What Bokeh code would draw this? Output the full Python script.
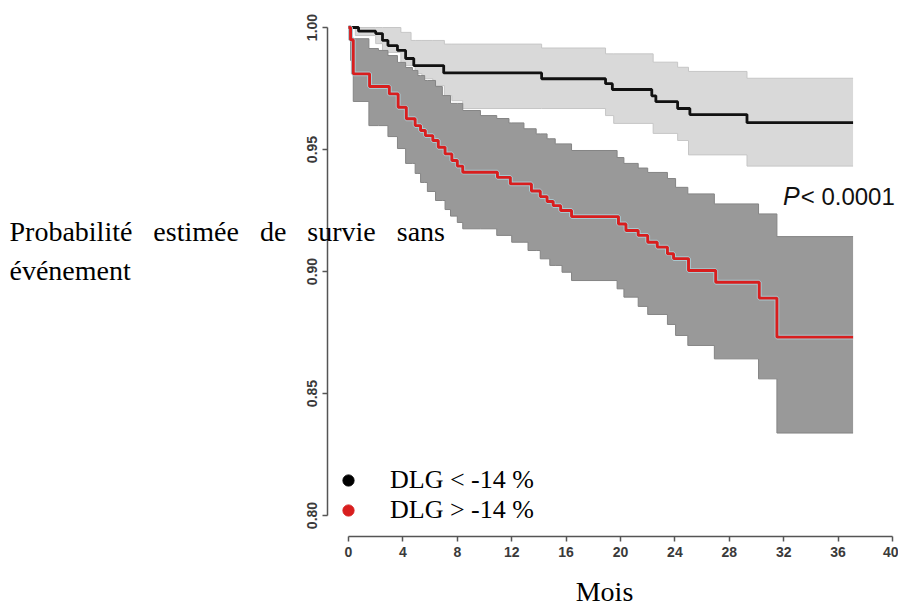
from bokeh.plotting import figure
from bokeh.models import Range1d, FixedTicker, Legend, LegendItem, Label, PrintfTickFormatter
from bokeh.embed import file_html
from bokeh.resources import INLINE

# ---- data ----
# DLG < -14 % : Kaplan-Meier curve (black) and its CI (light grey)
black_t = [0, 0.74, 2.0, 2.5, 2.9, 3.6, 4.2, 4.8, 7.0, 14.2, 18.9, 19.4, 22.3, 22.6, 24.2, 25.1, 29.3, 37.1]
black_s = [1.0, 0.9985, 0.9975, 0.9947, 0.9926, 0.9906, 0.9873, 0.9844, 0.9814, 0.979, 0.977, 0.9746,
           0.972, 0.9696, 0.9668, 0.9643, 0.961, 0.961]
light_t = [0, 0.5, 2.0, 2.5, 3.85, 4.6, 4.9, 5.4, 6.2, 7.05, 7.6, 8.4, 14.2, 18.9, 19.5, 22.4, 24.2, 25.0, 29.3, 37.1]
light_hi = [1.0, 1.0, 1.0, 1.0, 0.998, 0.9947, 0.9947, 0.9947, 0.9947, 0.9932, 0.9932, 0.9932, 0.9916,
            0.9892, 0.9892, 0.9858, 0.9837, 0.982, 0.9792, 0.9792]
light_lo = [1.0, 0.9967, 0.9934, 0.9898, 0.9844, 0.9844, 0.9811, 0.979, 0.9762, 0.9721, 0.970, 0.9668,
            0.9668, 0.9639, 0.9607, 0.9566, 0.9537, 0.9478, 0.9432, 0.9432]

# DLG > -14 % : Kaplan-Meier curve (red) and its CI (dark grey)
red_t = [0, 0.15, 0.35, 1.55, 3.0, 3.65, 4.25, 4.9, 5.3, 5.65, 6.2, 6.6, 7.1, 7.6, 8.0, 8.4, 10.95, 11.9,
         13.45, 14.1, 14.6, 15.05, 15.6, 16.4, 19.85, 20.4, 21.3, 22.0, 22.7, 23.45, 23.9, 25.0, 27.0,
         30.2, 31.5, 37.1]
red_s = [1.0, 0.995, 0.981, 0.9758, 0.9728, 0.9673, 0.9626, 0.9598, 0.9578, 0.9557, 0.9537, 0.9509,
         0.9482, 0.9455, 0.9432, 0.9407, 0.9386, 0.9359, 0.933, 0.9307, 0.9287, 0.927, 0.925, 0.9225,
         0.9195, 0.9168, 0.9148, 0.912, 0.91, 0.9073, 0.9053, 0.9004, 0.8956, 0.8891, 0.8731, 0.8731]
dark_t = [0, 0.15, 0.35, 1.5, 2.2, 2.9, 3.6, 4.2, 4.7, 4.9, 5.1, 5.3, 5.6, 5.8, 6.4, 6.9, 7.1, 7.5, 8.0,
          8.4, 9.7, 10.9, 11.8, 12.0, 12.9, 13.2, 13.8, 14.1, 14.6, 14.8, 15.2, 15.7, 16.4, 19.75, 20.25,
          21.3, 22.0, 23.45, 24.05, 24.95, 26.9, 30.15, 31.5, 37.1]
dark_hi = [1.0, 0.9954, 0.9954, 0.9914, 0.9906, 0.9885, 0.9857, 0.9836, 0.9824, 0.9824, 0.9803, 0.9803,
           0.9783, 0.9783, 0.9758, 0.9721, 0.9721, 0.9689, 0.9689, 0.966, 0.9639, 0.9627, 0.9609, 0.9609,
           0.9585, 0.9585, 0.9564, 0.9564, 0.9544, 0.9544, 0.9523, 0.9523, 0.9496, 0.9467, 0.9443, 0.9424,
           0.9406, 0.9381, 0.9345, 0.9318, 0.9277, 0.9236, 0.9143, 0.9143]
dark_lo = [1.0, 0.9865, 0.9697, 0.9598, 0.9598, 0.9553, 0.9504, 0.9443, 0.9443, 0.9402, 0.9402, 0.9365,
           0.9365, 0.9328, 0.9291, 0.9291, 0.9254, 0.9227, 0.9201, 0.9175, 0.9175, 0.9148, 0.9148, 0.912,
           0.912, 0.9086, 0.9086, 0.9052, 0.9052, 0.9025, 0.9025, 0.8997, 0.8963, 0.8929, 0.8895, 0.8857,
           0.8824, 0.8783, 0.8738, 0.8697, 0.8642, 0.856, 0.8338, 0.8338]

x_ticks = [0, 4, 8, 12, 16, 20, 24, 28, 32, 36, 40]
y_ticks = [0.80, 0.85, 0.90, 0.95, 1.00]
legend_labels = ["DLG < -14 %", "DLG > -14 %"]
y_title_words = ["Probabilité", "estimée", "de", "survie", "sans"]
y_title_line2 = "événement"
x_title = "Mois"
p_text = ("P", "< 0.0001")

# ---- figure ----
p = figure(width=898, height=609, x_range=Range1d(-1.544, 40.44), y_range=Range1d(0.7914, 1.0082),
           output_backend="svg", toolbar_location=None,
           min_border_left=327, min_border_right=0, min_border_top=7, min_border_bottom=73)
p.grid.visible = False
p.outline_line_color = None
p.background_fill_color = "white"

# confidence bands
p.varea_step(x=light_t, y1=light_lo, y2=light_hi, step_mode="after", fill_color="#d9d9d9")
p.step(light_t, light_hi, mode="after", line_color="#c6c6c6", line_width=1)
p.step(light_t, light_lo, mode="after", line_color="#c6c6c6", line_width=1)
p.varea_step(x=dark_t, y1=dark_lo, y2=dark_hi, step_mode="after", fill_color="#999999")
p.step(dark_t, dark_hi, mode="after", line_color="#848484", line_width=1)
p.step(dark_t, dark_lo, mode="after", line_color="#848484", line_width=1)

# survival curves
p.step(black_t, black_s, mode="after", line_color="#111111", line_width=2.8)
p.step(red_t, red_s, mode="after", line_color="#a9c8d0", line_width=4.8)
p.step(red_t, red_s, mode="after", line_color="#d81e1e", line_width=2.9)

# axes (R style)
for ax in (p.xaxis[0], p.yaxis[0]):
    ax.axis_line_color = "#555555"
    ax.axis_line_width = 1.5
    ax.major_tick_line_color = "#555555"
    ax.major_tick_line_width = 1.5
    ax.major_tick_out = 5
    ax.major_tick_in = 0
    ax.minor_tick_line_color = None
    ax.major_label_text_font = "Liberation Sans"
    ax.major_label_text_font_style = "bold"
    ax.major_label_text_font_size = "14px"
    ax.major_label_text_color = "#3a3a3a"
    ax.major_label_standoff = 5
p.xaxis.ticker = FixedTicker(ticks=x_ticks)
p.xaxis.bounds = (x_ticks[0], x_ticks[-1])
p.yaxis.ticker = FixedTicker(ticks=y_ticks)
p.yaxis.bounds = (y_ticks[0], y_ticks[-1])
p.yaxis.formatter = PrintfTickFormatter(format="%.2f")
p.yaxis.major_label_orientation = "vertical"

# legend with dots (renderers hold one non-drawable point so the legend has visuals)
nan = float("nan")
r_b = p.scatter(x=[nan], y=[nan], size=11, color="#000000")
r_r = p.scatter(x=[nan], y=[nan], size=11, color="#d81e1e")
legend = Legend(items=[LegendItem(label=legend_labels[0], renderers=[r_b], index=0),
                       LegendItem(label=legend_labels[1], renderers=[r_r], index=0)],
                location=(7, 11), orientation="vertical", border_line_color=None,
                background_fill_alpha=0, padding=0, margin=0, spacing=0,
                glyph_width=28, glyph_height=30, label_height=30, label_standoff=28,
                label_text_font="Liberation Serif", label_text_font_size="26px",
                label_text_color="#000000")
p.add_layout(legend)

# P value inside the plot area
p.add_layout(Label(x=31.95, y=0.9308, text=p_text[0], text_font="Liberation Sans", text_baseline="alphabetic",
                   text_font_style="italic", text_font_size="25px", text_color="#111111"))
p.add_layout(Label(x=33.25, y=0.9308, text=p_text[1], text_font="Liberation Sans", text_baseline="alphabetic",
                   text_font_size="24px", text_color="#111111"))

# titles placed in side panels (not clipped); screen units are relative to each panel slot
# the first line of the reference is justified (wide word gaps)
title_style = dict(x_units="screen", y_units="screen", text_baseline="alphabetic",
                   text_font="Liberation Serif", text_font_size="28px", text_color="#000000")
y_title_line1 = "\u00a0\u00a0 ".join(y_title_words)
p.add_layout(Label(x=-318, y=359, text=y_title_line1, **title_style), "below")
p.add_layout(Label(x=-174, y=266, text=y_title_line2, **title_style), "left")
p.add_layout(Label(x=479, y=-55, text=x_title, text_align="center", **title_style), "left")

open("out.html", "w").write(file_html(p, INLINE))
